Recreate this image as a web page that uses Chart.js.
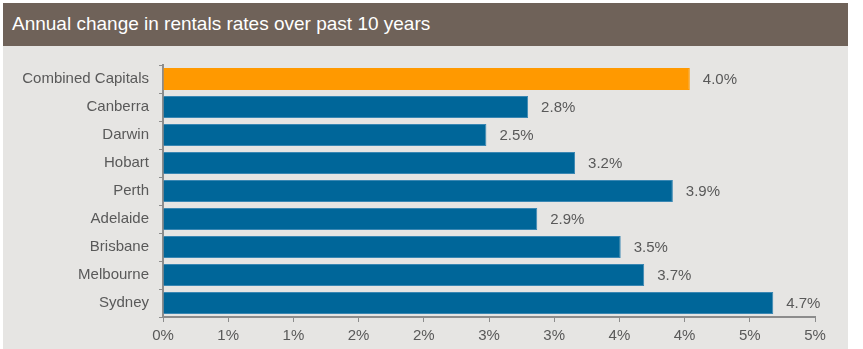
<!DOCTYPE html>
<html>
<head>
<meta charset="utf-8">
<script src="https://cdn.jsdelivr.net/npm/chart.js@4.4.1/dist/chart.umd.min.js"></script>
<style>
  html, body { margin: 0; padding: 0; background: #ffffff; }
  body { width: 863px; height: 349px; position: relative; overflow: hidden; font-family: "Liberation Sans", Arial, sans-serif; }
  #titleBar {
    position: absolute; left: 3px; top: 3px; width: 845px; height: 43px;
    background: #6f6259; color: #ffffff; font-size: 19px;
    line-height: 41px; padding-left: 9px; box-sizing: border-box;
  }
  #chartBox {
    position: absolute; left: 3px; top: 46px; width: 845px; height: 303px;
    background: #e6e5e3;
  }
</style>
</head>
<body>
<div id="titleBar">Annual change in rentals rates over past 10 years</div>
<div id="chartBox"><canvas id="rentChart" width="845" height="303"></canvas></div>
<script>
const cities = [
  "Combined Capitals", "Canberra", "Darwin", "Hobart", "Perth",
  "Adelaide", "Brisbane", "Melbourne", "Sydney",
];
const rentChange = [4.04, 2.8, 2.48, 3.16, 3.91, 2.87, 3.51, 3.69, 4.68];
const barColors = [
  "#ff9900", "#006699", "#006699", "#006699", "#006699",
  "#006699", "#006699", "#006699", "#006699",
];
const axisMin = 0;
const axisMax = 5;
const axisStep = 0.5;

const textGrey = "#595959";
const axisGrey = "#8c8c8c";
const labelFont = "'Liberation Sans', Arial, sans-serif";

// value labels at the end of each bar
const barValueLabels = {
  id: "barValueLabels",
  afterDatasetsDraw(chart) {
    const ctx = chart.ctx;
    const meta = chart.getDatasetMeta(0);
    ctx.save();
    ctx.font = "15px " + labelFont;
    ctx.fillStyle = textGrey;
    ctx.textAlign = "left";
    ctx.textBaseline = "middle";
    meta.data.forEach((bar, i) => {
      ctx.fillText(rentChange[i].toFixed(1) + "%", bar.x + 13, bar.y + 1);
    });
    ctx.restore();
  },
};

const ctxRent = document.getElementById("rentChart").getContext("2d");
const rentChart = new Chart(ctxRent, {
  type: "bar",
  data: {
    labels: cities,
    datasets: [
      {
        data: rentChange,
        backgroundColor: barColors,
        borderColor: barColors.map((c) => (c === "#006699" ? "#3a87b3" : c)),
        borderWidth: 1,
        categoryPercentage: 1,
        barPercentage: 0.78,
      },
    ],
  },
  options: {
    indexAxis: "y",
    responsive: false,
    animation: false,
    layout: { padding: { top: 16, right: 33, bottom: 0, left: 0 } },
    plugins: {
      legend: { display: false },
      tooltip: { enabled: false },
    },
    scales: {
      x: {
        min: axisMin,
        max: axisMax,
        ticks: {
          stepSize: axisStep,
          color: textGrey,
          font: { family: labelFont, size: 15 },
          padding: 5,
          maxRotation: 0,
          callback: (v) => Math.round(v) + "%",
        },
        grid: {
          drawOnChartArea: false,
          drawTicks: true,
          tickLength: 5,
          color: axisGrey,
        },
        border: { display: true, color: axisGrey, width: 2 },
        afterFit: (scale) => { scale.height = 32; },
      },
      y: {
        ticks: {
          color: textGrey,
          font: { family: labelFont, size: 15 },
          padding: 10,
        },
        grid: {
          offset: true,
          drawOnChartArea: false,
          drawTicks: true,
          tickLength: 4,
          color: axisGrey,
        },
        border: { display: true, color: axisGrey, width: 2 },
        afterFit: (scale) => { scale.width = 160; },
      },
    },
  },
  plugins: [barValueLabels],
});
</script>
</body>
</html>
